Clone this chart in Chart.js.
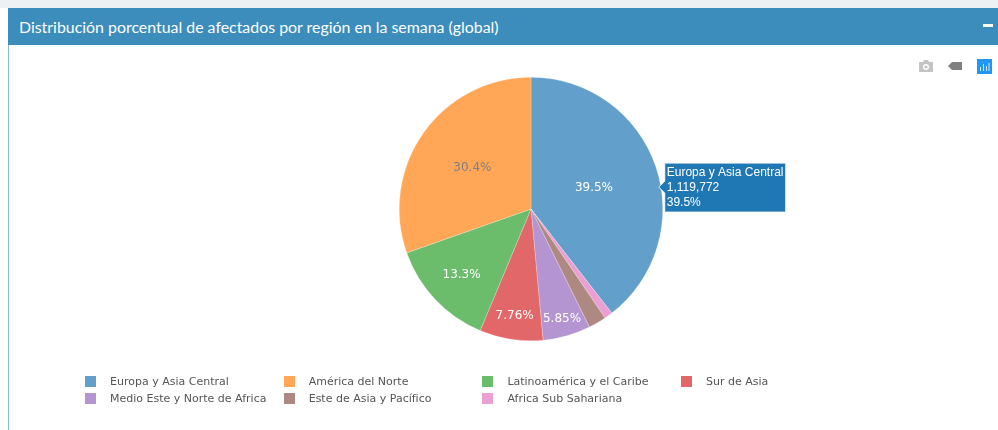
<!DOCTYPE html>
<html lang="es">
<head>
<meta charset="utf-8">
<script src="https://cdn.jsdelivr.net/npm/chart.js@4"></script>
<style>
html,body{margin:0;padding:0;width:998px;height:430px;overflow:hidden;background:#fff}
#top{position:absolute;left:0;top:0;width:998px;height:8px;background:#eef1f4}
#head{position:absolute;left:8px;top:8px;width:990px;height:37px;background:#3c8dbc;color:#fff;
 font:15.9px/37px Lato,sans-serif;white-space:nowrap}
#head span{position:absolute;left:11px;top:0}
#minus{position:absolute;left:975px;top:16px;width:10px;height:3px;background:#fff}
#side{position:absolute;left:8px;top:45px;width:1px;height:385px;background:#8fb9d3}
canvas{position:absolute;left:0;top:0}
#legend{position:absolute;left:85px;top:373px;display:grid;grid-template-columns:repeat(4,198.7px);grid-auto-rows:17px;
 font:11px/17px "DejaVu Sans",sans-serif;color:#555}
#legend div{white-space:nowrap;display:flex;align-items:center}
#legend i{display:block;width:11px;height:11px;margin-right:14px}
svg{position:absolute}
</style>
</head>
<body>
<div id="top"></div>
<div id="head"><span id="title"></span><div id="minus"></div></div>
<div id="side"></div>
<canvas id="c" width="998" height="430"></canvas>
<svg style="left:918px;top:59px" width="16" height="14" viewBox="0 0 16 14"><path fill="#c4c4c4" d="M1 3h4l1-2h4l1 2h4v10H1z"/><circle cx="8" cy="8" r="3" fill="#fff"/><circle cx="8" cy="8" r="1.6" fill="#c4c4c4"/></svg>
<svg style="left:947px;top:61px" width="16" height="10" viewBox="0 0 16 10"><path fill="#808080" d="M5 1h10v8H5L1 5z"/></svg>
<svg style="left:977px;top:59px" width="15" height="15" viewBox="0 0 15 15"><rect width="15" height="15" fill="#2196f3"/><path stroke="#cfe9fd" stroke-width="1" d="M3.5 12V8M6.5 12V5M9.5 12V7M12 12V4"/></svg>
<div id="legend"></div>
<script>
const titleText = "Distribución porcentual de afectados por región en la semana (global)";
const categories = ["Europa y Asia Central","América del Norte","Latinoamérica y el Caribe","Sur de Asia","Medio Este y Norte de Africa","Este de Asia y Pacífico","Africa Sub Sahariana"];
const cases = [1119772,861800,377000,220000,165800,62000,28500];
const percentLabels = ["39.5%","30.4%","13.3%","7.76%","5.85%","",""];
const colors = ["#629fcb","#ffa757","#6bbd6b","#e26768","#b495d1","#ae8981","#eba0d4"];
const drawOrder = [0,6,5,4,3,2,1];
const labelRadius = [0.505,0.545,0.725,0.82,0.865,0,0];
const labelColors = ["#fff","#808080","#fff","#fff","#fff","#fff","#fff"];

document.getElementById('title').textContent = titleText;
const lg = document.getElementById('legend');
categories.forEach((n,i)=>{
  const d=document.createElement('div');
  const s=document.createElement('i'); s.style.background=colors[i];
  d.appendChild(s); d.appendChild(document.createTextNode(n)); lg.appendChild(d);
});

const sliceLabels = {
  id:'sliceLabels',
  afterDatasetsDraw(chart){
    const ctx=chart.ctx, arcs=chart.getDatasetMeta(0).data;
    ctx.save();
    ctx.font='12px "DejaVu Sans", sans-serif';
    ctx.textAlign='center'; ctx.textBaseline='middle';
    arcs.forEach((a,k)=>{
      const i=drawOrder[k]; if(!percentLabels[i]) return;
      const mid=(a.startAngle+a.endAngle)/2, r=a.outerRadius*labelRadius[i];
      ctx.fillStyle=labelColors[i];
      ctx.fillText(percentLabels[i],a.x+Math.cos(mid)*r,a.y+Math.sin(mid)*r);
    });
    ctx.restore();
  }
};
const hoverBox = {
  id:'hoverBox',
  afterDraw(chart){
    const ctx=chart.ctx, a=chart.getDatasetMeta(0).data[0];
    const ang=-Math.PI/2+80*Math.PI/180;
    const tx=a.x+Math.cos(ang)*a.outerRadius-2, ty=a.y+Math.sin(ang)*a.outerRadius+1;
    const lines=[categories[0],cases[0].toLocaleString('en-US'),percentLabels[0]];
    const bx=tx+6, by=ty-24, bw=121, bh=49;
    ctx.save();
    ctx.fillStyle='#1f77b4';
    ctx.beginPath();ctx.moveTo(tx,ty);ctx.lineTo(bx,ty-6);ctx.lineTo(bx,by);ctx.lineTo(bx+bw,by);ctx.lineTo(bx+bw,by+bh);ctx.lineTo(bx,by+bh);ctx.lineTo(bx,ty+6);ctx.closePath();ctx.fill();
    ctx.strokeStyle='rgba(255,255,255,.9)';ctx.lineWidth=1;ctx.stroke();
    ctx.fillStyle='#fff';ctx.font='12px "Liberation Sans", Arial, sans-serif';ctx.textAlign='left';ctx.textBaseline='middle';
    lines.forEach((t,i)=>ctx.fillText(t,bx+2,by+9.5+i*15));
    ctx.restore();
  }
};
new Chart(document.getElementById('c'),{
  type:'pie',
  data:{labels:drawOrder.map(i=>categories[i]),
    datasets:[{data:drawOrder.map(i=>cases[i]),backgroundColor:drawOrder.map(i=>colors[i]),borderColor:'rgba(255,255,255,.45)',borderWidth:0.5}]},
  options:{responsive:false,animation:false,
    layout:{padding:{left:399,right:335,top:77,bottom:89}},
    plugins:{legend:{display:false},tooltip:{enabled:false}}},
  plugins:[sliceLabels,hoverBox]
});
</script>
</body>
</html>
